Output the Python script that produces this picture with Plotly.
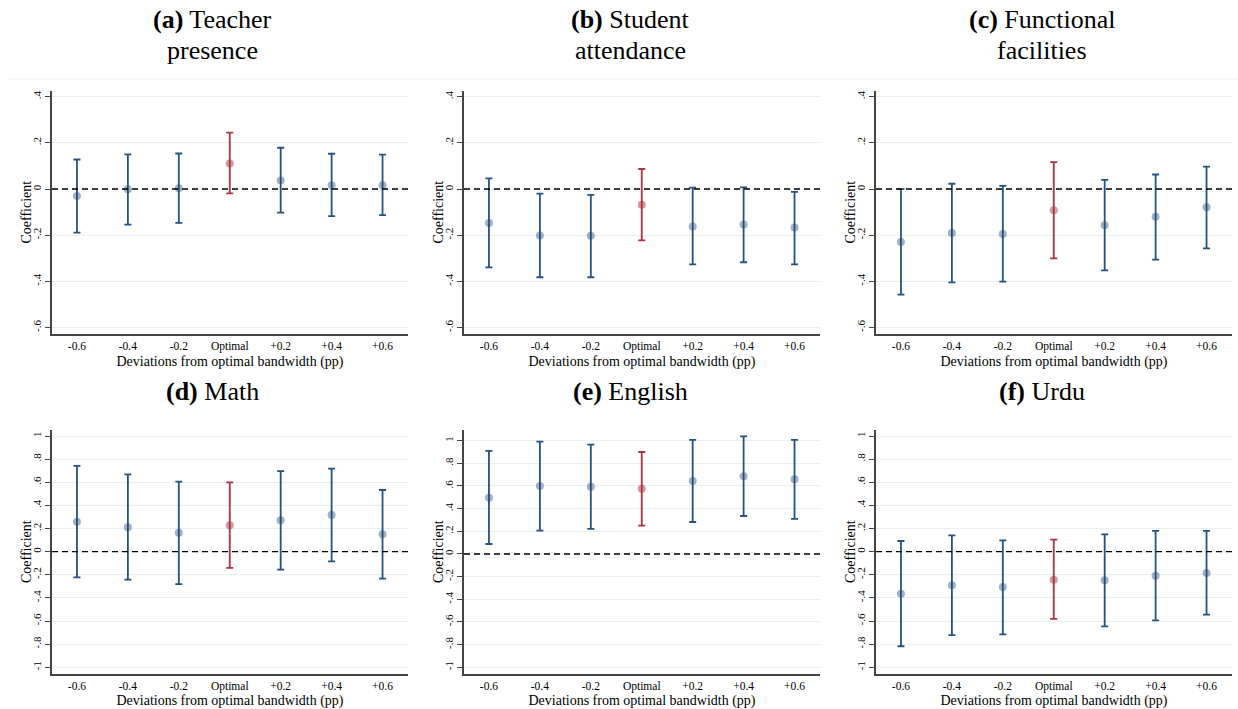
import plotly.graph_objects as go

W, H = 1238, 709

# ---------------- data ----------------
x_labels = ["-0.6", "-0.4", "-0.2", "Optimal", "+0.2", "+0.4", "+0.6"]

teacher_coef = [-0.030, -0.001, 0.004, 0.111, 0.037, 0.017, 0.017]
teacher_lo   = [-0.189, -0.154, -0.146, -0.019, -0.102, -0.117, -0.113]
teacher_hi   = [0.128, 0.150, 0.154, 0.244, 0.179, 0.153, 0.149]

student_coef = [-0.147, -0.201, -0.202, -0.068, -0.162, -0.153, -0.167]
student_lo   = [-0.339, -0.382, -0.382, -0.222, -0.326, -0.317, -0.326]
student_hi   = [0.046, -0.020, -0.025, 0.087, 0.006, 0.007, -0.012]

facil_coef = [-0.229, -0.190, -0.195, -0.092, -0.157, -0.120, -0.079]
facil_lo   = [-0.457, -0.404, -0.401, -0.300, -0.352, -0.306, -0.257]
facil_hi   = [0.000, 0.023, 0.014, 0.117, 0.040, 0.063, 0.097]

math_coef = [0.259, 0.210, 0.164, 0.228, 0.271, 0.317, 0.150]
math_lo   = [-0.222, -0.242, -0.280, -0.141, -0.156, -0.084, -0.233]
math_hi   = [0.741, 0.669, 0.605, 0.599, 0.697, 0.718, 0.533]

english_coef = [0.497, 0.600, 0.594, 0.576, 0.644, 0.685, 0.659]
english_lo   = [0.088, 0.206, 0.221, 0.250, 0.282, 0.335, 0.309]
english_hi   = [0.909, 0.991, 0.965, 0.900, 1.006, 1.038, 1.006]

urdu_coef = [-0.363, -0.291, -0.305, -0.242, -0.248, -0.208, -0.184]
urdu_lo   = [-0.818, -0.721, -0.715, -0.582, -0.646, -0.594, -0.545]
urdu_hi   = [0.092, 0.141, 0.098, 0.104, 0.150, 0.179, 0.179]

titles = [("(a)", "Teacher", "presence"), ("(b)", "Student", "attendance"),
          ("(c)", "Functional", "facilities"), ("(d)", "Math", None),
          ("(e)", "English", None), ("(f)", "Urdu", None)]

top_ticks = [-0.6, -0.4, -0.2, 0, 0.2, 0.4]
top_ticktext = ["-.6", "-.4", "-.2", "0", ".2", ".4"]
bot_ticks = [-1, -0.8, -0.6, -0.4, -0.2, 0, 0.2, 0.4, 0.6, 0.8, 1]
bot_ticktext = ["-1", "-.8", "-.6", "-.4", "-.2", "0", ".2", ".4", ".6", ".8", "1"]

panels = [
    (teacher_coef, teacher_lo, teacher_hi),
    (student_coef, student_lo, student_hi),
    (facil_coef, facil_lo, facil_hi),
    (math_coef, math_lo, math_hi),
    (english_coef, english_lo, english_hi),
    (urdu_coef, urdu_lo, urdu_hi),
]
y_ranges = [[-0.629, 0.426]] * 3 + [[-1.058, 1.052], [-1.059, 1.094], [-1.058, 1.052]]

# ---------------- styling ----------------
FONT = "Liberation Serif"
NAVY = "#27527f"
RED = "#a8343f"
NAVY_M = "rgba(30,72,115,0.42)"
RED_M = "rgba(168,52,63,0.5)"
AXIS = "#444444"
GRID = "#e8f0f2"

col_px = [(52, 408), (464, 820), (876, 1232)]
row_px = [(90.7, 334.3), (430, 674)]
title_cx = [212, 630, 1042]

def X(px):
    return px / W

def Y(px):
    return 1 - px / H

fig = go.Figure()
layout = dict(
    width=W, height=H, margin=dict(l=0, r=0, t=0, b=0),
    paper_bgcolor="white", plot_bgcolor="white",
    showlegend=False, font=dict(family=FONT, color="black"),
)
annotations = []
shapes = []

xs = list(range(len(x_labels)))
for i, (coef, lo, hi) in enumerate(panels):
    r, c = divmod(i, 3)
    n = i + 1
    xa = "x" if n == 1 else f"x{n}"
    ya = "y" if n == 1 else f"y{n}"
    plus = [h - v for h, v in zip(hi, coef)]
    minus = [v - l for v, l in zip(coef, lo)]
    bar_cols = [RED if lab == "Optimal" else NAVY for lab in x_labels]
    mk_cols = [RED_M if lab == "Optimal" else NAVY_M for lab in x_labels]
    for j in xs:
        fig.add_trace(go.Scatter(
            x=[j], y=[coef[j]], mode="markers", xaxis=xa, yaxis=ya,
            marker=dict(size=8, color=mk_cols[j], line=dict(width=0)),
            error_y=dict(type="data", symmetric=False, array=[plus[j]],
                         arrayminus=[minus[j]], color=bar_cols[j],
                         thickness=1.8, width=3.5),
            hoverinfo="skip",
        ))
    x0, x1 = col_px[c]
    y0, y1 = row_px[r]
    layout[f"xaxis{'' if n == 1 else n}"] = dict(
        domain=[X(x0), X(x1)], anchor=ya, range=[-0.49, 6.5],
        tickmode="array", tickvals=xs, ticktext=x_labels,
        tickfont=dict(family=FONT, size=11.5, color="black"),
        showline=True, linecolor=AXIS, linewidth=1.5, ticks="", showgrid=False,
        zeroline=False, automargin=False,
        title=dict(text="Deviations from optimal bandwidth (pp)",
                   font=dict(family=FONT, size=14, color="black"), standoff=4),
    )
    tv, tt = (top_ticks, top_ticktext) if r == 0 else (bot_ticks, bot_ticktext)
    layout[f"yaxis{'' if n == 1 else n}"] = dict(
        domain=[Y(y1), Y(y0)], anchor=xa, range=y_ranges[i],
        tickmode="array", tickvals=tv, ticktext=tt, tickangle=-90,
        tickfont=dict(family=FONT, size=11, color="black"),
        showline=True, linecolor=AXIS, linewidth=1.5,
        ticks="outside", ticklen=5, tickcolor=AXIS, tickwidth=1,
        showgrid=True, gridcolor=GRID, gridwidth=1, zeroline=False,
        automargin=False,
    )
    annotations.append(dict(text="Coefficient", x=X(x0 - 26), y=Y((y0 + y1) / 2),
                            xref="paper", yref="paper", showarrow=False,
                            textangle=-90, xanchor="center", yanchor="middle",
                            font=dict(family=FONT, size=14, color="black")))
    shapes.append(dict(type="line", xref=f"{xa} domain", yref=ya, x0=0, x1=1,
                       y0=0, y1=0, line=dict(color="black", width=1.4, dash="6px,4px"),
                       layer="above"))
    lbl, l1, l2 = titles[i]
    if r == 0:
        annotations.append(dict(text=f"<b>{lbl}</b> {l1}", x=X(title_cx[c]), y=Y(20),
                                xref="paper", yref="paper", showarrow=False,
                                xanchor="center", yanchor="middle",
                                font=dict(family=FONT, size=26, color="black")))
        annotations.append(dict(text=l2, x=X(title_cx[c]), y=Y(50),
                                xref="paper", yref="paper", showarrow=False,
                                xanchor="center", yanchor="middle",
                                font=dict(family=FONT, size=26, color="black")))
    else:
        annotations.append(dict(text=f"<b>{lbl}</b> {l1}", x=X(title_cx[c]), y=Y(391),
                                xref="paper", yref="paper", showarrow=False,
                                xanchor="center", yanchor="middle",
                                font=dict(family=FONT, size=26, color="black")))

shapes.append(dict(type="line", xref="paper", yref="paper", x0=X(7), x1=1,
                   y0=Y(79), y1=Y(79), line=dict(color="#eeeeee", width=1)))

layout["annotations"] = annotations
layout["shapes"] = shapes
fig.update_layout(**layout)
fig.write_html("out.html")
